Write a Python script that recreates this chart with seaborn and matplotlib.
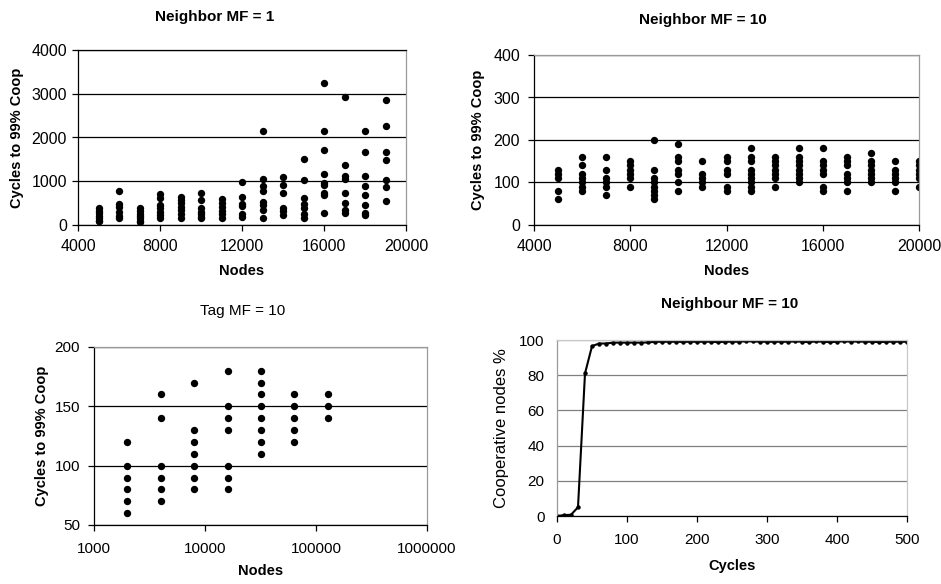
import matplotlib
matplotlib.use("Agg")
import matplotlib.pyplot as plt
import matplotlib.ticker as mticker
import seaborn as sns
import pandas as pd

# ---------------- data ----------------
# Panel 1: Neighbor MF = 1  (nodes -> cycles to 99% coop)
p1_nodes = [5000, 6000, 7000, 8000, 9000, 10000, 11000, 12000,
            13000, 14000, 15000, 16000, 17000, 18000, 19000]
p1_values = [
    [380, 330, 280, 200, 150, 100, 80],
    [770, 470, 400, 300, 200, 150],
    [380, 320, 250, 200, 150, 100, 70],
    [700, 620, 450, 380, 300, 220, 150],
    [650, 580, 500, 420, 340, 250, 150],
    [730, 560, 380, 300, 250, 180, 150],
    [590, 510, 420, 330, 250, 150],
    [990, 630, 480, 430, 260, 190],
    [2150, 1060, 890, 780, 530, 450, 340, 150],
    [1100, 910, 730, 380, 320, 230],
    [1510, 1030, 610, 490, 380, 260, 150],
    [3240, 2140, 1710, 1160, 960, 910, 740, 680, 270],
    [2930, 1380, 1110, 1050, 720, 510, 340, 270],
    [2140, 1660, 1110, 900, 680, 450, 280, 230],
    [2850, 2270, 1660, 1480, 1030, 870, 550],
]

# Panel 2: Neighbor MF = 10
p2_nodes = [5000, 6000, 7000, 8000, 9000, 10000, 11000, 12000,
            13000, 14000, 15000, 16000, 17000, 18000, 19000, 20000]
p2_values = [
    [130, 120, 110, 80, 60],
    [160, 140, 120, 110, 100, 90, 80],
    [160, 130, 110, 100, 90, 70],
    [150, 140, 130, 120, 110, 90],
    [200, 130, 110, 100, 90, 80, 70, 60],
    [190, 160, 150, 130, 120, 100, 80],
    [150, 120, 110, 100, 90],
    [160, 150, 130, 120, 90, 80],
    [180, 160, 150, 130, 120, 110, 100, 90, 80],
    [160, 150, 140, 130, 120, 110, 90],
    [180, 160, 150, 140, 130, 120, 110, 100],
    [180, 150, 140, 130, 120, 90, 80],
    [160, 150, 140, 120, 110, 100, 80],
    [170, 150, 140, 130, 120, 110, 100],
    [150, 130, 120, 110, 100, 80],
    [150, 140, 130, 120, 110, 90],
]

# Panel 3: Tag MF = 10 (log-scale nodes)
p3_nodes = [2000, 4000, 8000, 16000, 32000, 64000, 128000]
p3_values = [
    [120, 100, 90, 80, 70, 60],
    [160, 140, 100, 90, 80, 70],
    [170, 130, 120, 110, 100, 90, 80],
    [180, 150, 140, 130, 100, 90, 80],
    [180, 170, 160, 150, 140, 130, 120, 110],
    [160, 150, 140, 130, 120],
    [160, 150, 140],
]

# Panel 4: Neighbour MF = 10 (cycles -> cooperative nodes %)
p4_cycles = [0, 10, 20, 30, 40, 50, 60, 70, 80, 90,
             100, 110, 120, 130, 140, 150, 160, 170, 180, 190,
             200, 210, 220, 230, 240, 250, 260, 270, 280, 290,
             300, 310, 320, 330, 340, 350, 360, 370, 380, 390,
             400, 410, 420, 430, 440, 450, 460, 470, 480, 490, 500]
p4_coop = [0.0, 0.5, 0.7, 5.0, 81.0, 96.5, 98.0, 98.0, 98.5, 98.5,
           98.5, 98.5, 98.5, 98.6, 99.0, 99.0, 99.0, 99.0, 98.9, 99.0,
           99.0, 99.0, 99.0, 98.8, 99.0, 99.0, 99.0, 99.3, 99.2, 99.0,
           99.0, 99.0, 99.0, 99.0, 99.2, 99.0, 98.8, 99.2, 99.0, 98.8,
           99.0, 99.3, 99.0, 99.2, 99.0, 99.0, 98.8, 99.0, 99.0, 99.0, 99.0]


def to_frame(nodes, values):
    xs, ys = [], []
    for n, vals in zip(nodes, values):
        for v in vals:
            xs.append(n)
            ys.append(v)
    return pd.DataFrame({"Nodes": xs, "Cycles": ys})


df1 = to_frame(p1_nodes, p1_values)
df2 = to_frame(p2_nodes, p2_values)
df3 = to_frame(p3_nodes, p3_values)
df4 = pd.DataFrame({"Cycles": p4_cycles, "Coop": p4_coop})

# ---------------- style ----------------
sns.set_theme(style="white")
plt.rcParams["font.family"] = ["Liberation Sans", "DejaVu Sans"]
plt.rcParams["font.size"] = 10
plt.rcParams["text.color"] = "black"
plt.rcParams["axes.labelcolor"] = "black"
plt.rcParams["xtick.color"] = "black"
plt.rcParams["ytick.color"] = "black"

W, H = 941, 584
fig = plt.figure(figsize=(W / 100, H / 100), dpi=100)
fig.patch.set_facecolor("white")


def add_ax(l, t, r, b):
    return fig.add_axes([l / W, 1 - b / H, (r - l) / W, (b - t) / H])


ax1 = add_ax(78, 50, 406, 225)
ax2 = add_ax(534, 55, 919, 225)
ax3 = add_ax(94, 347, 427, 525)
ax4 = add_ax(557, 340, 907, 516)

GRAY = "#9a9a9a"
TICK_FS = 11.5
LABEL_FS = 10.5
TITLE_FS = 11


def style_axes(ax, grid_color="black", left_color="black", top_color=GRAY,
               xpad=7, ypad=4, fs=TICK_FS):
    ax.set_facecolor("white")
    ax.grid(False)
    ax.yaxis.grid(True, color=grid_color, linewidth=0.9)
    ax.set_axisbelow(True)
    ax.spines["left"].set_color(left_color)
    ax.spines["bottom"].set_color("black")
    ax.spines["top"].set_color(top_color)
    ax.spines["right"].set_color(GRAY)
    for s in ax.spines.values():
        s.set_linewidth(0.9)
    ax.tick_params(axis="both", which="major", direction="out", length=4,
                   width=0.9, color="black", labelsize=fs,
                   left=True, bottom=True, labelcolor="black")
    ax.tick_params(axis="x", pad=xpad)
    ax.tick_params(axis="y", pad=ypad)


def put_title(ax, text, xfrac, pad, bold=True, fs=TITLE_FS):
    t = ax.set_title(text, fontsize=fs, fontweight="bold" if bold else "normal",
                     pad=pad, color="black")
    t.set_x(xfrac)


dot = dict(color="black", s=28, edgecolor="black", linewidth=0, legend=False)

# Panel 1
sns.scatterplot(data=df1, x="Nodes", y="Cycles", ax=ax1, **dot)
ax1.set_xlim(4000, 20000)
ax1.set_ylim(0, 4000)
ax1.set_xticks([4000, 8000, 12000, 16000, 20000])
ax1.set_yticks([0, 1000, 2000, 3000, 4000])
style_axes(ax1, top_color="black", xpad=6, ypad=4)
put_title(ax1, "Neighbor MF = 1", 0.418, 21)
ax1.set_xlabel("Nodes", fontsize=LABEL_FS, fontweight="bold", labelpad=7)
ax1.set_ylabel("Cycles to 99% Coop", fontsize=LABEL_FS, fontweight="bold", labelpad=5)

# Panel 2
sns.scatterplot(data=df2, x="Nodes", y="Cycles", ax=ax2, **dot)
ax2.set_xlim(4000, 20000)
ax2.set_ylim(0, 400)
ax2.set_xticks([4000, 8000, 12000, 16000, 20000])
ax2.set_yticks([0, 100, 200, 300, 400])
style_axes(ax2, xpad=6, ypad=6)
put_title(ax2, "Neighbor MF = 10", 0.439, 22)
ax2.set_xlabel("Nodes", fontsize=LABEL_FS, fontweight="bold", labelpad=7)
ax2.set_ylabel("Cycles to 99% Coop", fontsize=LABEL_FS, fontweight="bold", labelpad=6)

# Panel 3
sns.scatterplot(data=df3, x="Nodes", y="Cycles", ax=ax3, **dot)
ax3.set_xscale("log")
ax3.set_xlim(1000, 1000000)
ax3.set_ylim(50, 200)
ax3.xaxis.set_major_locator(mticker.FixedLocator([1000, 10000, 100000, 1000000]))
ax3.xaxis.set_minor_locator(mticker.NullLocator())
ax3.xaxis.set_major_formatter(mticker.FuncFormatter(lambda v, p: f"{int(round(v))}"))
ax3.set_yticks([50, 100, 150, 200])
style_axes(ax3, xpad=8, ypad=6, fs=11)
put_title(ax3, "Tag MF = 10", 0.447, 23, bold=False, fs=11)
ax3.set_xlabel("Nodes", fontsize=LABEL_FS, fontweight="bold", labelpad=6)
ax3.set_ylabel("Cycles to 99% Coop", fontsize=LABEL_FS, fontweight="bold", labelpad=4)

# Panel 4
sns.lineplot(data=df4, x="Cycles", y="Coop", ax=ax4, color="black",
             linewidth=1.5, marker="o", markersize=3.2, markeredgewidth=0)
ax4.set_xlim(0, 500)
ax4.set_ylim(0, 100)
ax4.set_xticks([0, 100, 200, 300, 400, 500])
ax4.set_yticks([0, 20, 40, 60, 80, 100])
style_axes(ax4, grid_color="#808080", left_color=GRAY, top_color="#c8c8c8",
           xpad=8, ypad=9, fs=11)
ax4.spines["right"].set_color("#c8c8c8")
ax4.tick_params(axis="y", length=0)
put_title(ax4, "Neighbour MF = 10", 0.494, 23)
ax4.set_xlabel("Cycles", fontsize=LABEL_FS, fontweight="bold", labelpad=9)
ax4.set_ylabel("Cooperative nodes %", fontsize=12, labelpad=7)

fig.savefig("out.png", dpi=100, facecolor="white")
